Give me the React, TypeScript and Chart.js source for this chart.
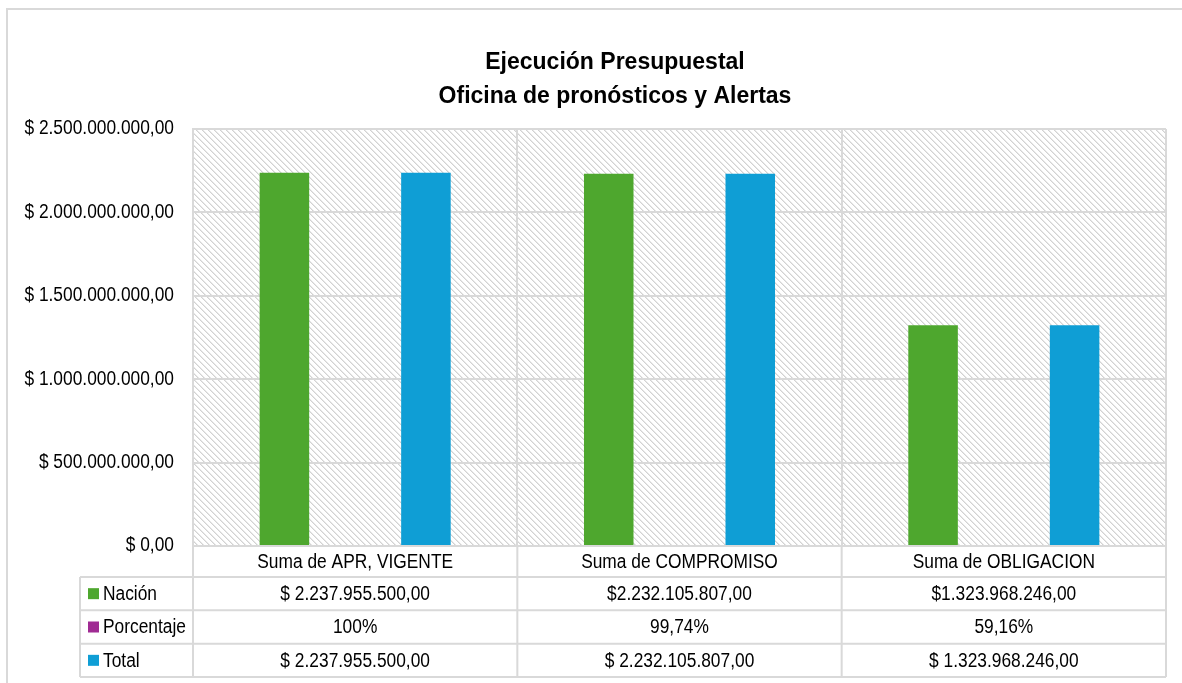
import { useEffect, useRef } from 'react';
import { Chart, registerables } from 'chart.js';

Chart.register(...registerables);

const categories = ['Suma de APR, VIGENTE', 'Suma de COMPROMISO', 'Suma de OBLIGACION'];
const seriesNames = ['Nación', 'Porcentaje', 'Total'];
const nacionValues = [2237955500, 2232105807, 1323968246];
const porcentajeValues = [1, 0.9974, 0.5916];
const totalValues = [2237955500, 2232105807, 1323968246];
const nacionLabels = ['$ 2.237.955.500,00', '$2.232.105.807,00', '$1.323.968.246,00'];
const porcentajeLabels = ['100%', '99,74%', '59,16%'];
const totalLabels = ['$ 2.237.955.500,00', '$ 2.232.105.807,00', '$ 1.323.968.246,00'];
const seriesColors = ['#4EA72E', '#A02B93', '#0F9ED5'];
const barColors = ['#4EA72E', 'rgba(160,43,147,0)', '#0F9ED5'];
const titleLines = ['Ejecución Presupuestal', 'Oficina de pronósticos y Alertas'];
const yMax = 2500000000;
const yStep = 500000000;

const FONT = "'Liberation Sans', Arial, sans-serif";
const GRID = '#d9d9d9';
const TEXT_SIZE = 19.5;
const TEXT_SX = 0.89;

function formatPesos(v: number): string {
  const s = Math.round(v).toString().replace(/\B(?=(\d{3})+(?!\d))/g, '.');
  return '$ ' + s + ',00';
}

function drawNarrow(ctx: CanvasRenderingContext2D, text: string, x: number, y: number, align: CanvasTextAlign) {
  ctx.save();
  ctx.translate(x, y);
  ctx.scale(TEXT_SX, 1);
  ctx.textAlign = align;
  ctx.textBaseline = 'middle';
  ctx.font = `${TEXT_SIZE}px ${FONT}`;
  ctx.fillText(text, 0, 0);
  ctx.restore();
}

const framePlugin = {
  id: 'frame',
  beforeDraw(chart: any) {
    const { ctx, chartArea: a } = chart;
    ctx.save();
    ctx.fillStyle = '#ffffff';
    ctx.fillRect(0, 0, chart.width, chart.height);
    ctx.strokeStyle = GRID;
    ctx.lineWidth = 2;
    ctx.beginPath();
    ctx.moveTo(7, chart.height);
    ctx.lineTo(7, 9);
    ctx.lineTo(chart.width, 9);
    ctx.stroke();
    const tile = document.createElement('canvas');
    tile.width = 6;
    tile.height = 6;
    const t = tile.getContext('2d')!;
    for (let i = 0; i < 6; i++) {
      t.fillStyle = '#d2d2d2';
      t.fillRect(i, i, 1, 1);
      t.fillStyle = '#e8e8e8';
      t.fillRect((i + 1) % 6, i, 1, 1);
    }
    const pat = ctx.createPattern(tile, 'repeat');
    if (pat) {
      ctx.fillStyle = pat;
      ctx.fillRect(a.left, a.top, a.right - a.left, a.bottom - a.top);
    }
    ctx.restore();
  },
  afterDraw(chart: any) {
    const { ctx, chartArea: a } = chart;
    const n = categories.length;
    const w = (a.right - a.left) / n;
    const labelLeft = a.left - 113;
    const catBottom = a.bottom + 31;
    const rowH = (677 - 577) / 3;
    const rows = [catBottom, catBottom + rowH, catBottom + 2 * rowH, catBottom + 3 * rowH];
    const tableBottom = rows[3];
    ctx.save();

    // title (the source chart frame is wider than the page, so its centre sits right of the page centre)
    ctx.fillStyle = '#000000';
    ctx.textAlign = 'center';
    ctx.textBaseline = 'middle';
    ctx.font = `bold 23px ${FONT}`;
    titleLines.forEach((line, i) => {
      ctx.fillText(line, 615, 63 + i * 34);
    });

    ctx.strokeStyle = GRID;
    ctx.lineWidth = 2;
    ctx.beginPath();
    for (let i = 0; i <= n; i++) {
      const xx = a.left + i * w;
      ctx.moveTo(xx, a.bottom);
      ctx.lineTo(xx, tableBottom);
    }
    ctx.moveTo(labelLeft, rows[0]);
    ctx.lineTo(labelLeft, tableBottom);
    for (const r of rows) {
      ctx.moveTo(labelLeft, r);
      ctx.lineTo(a.right, r);
    }
    ctx.stroke();

    ctx.fillStyle = '#000000';
    const ys = chart.scales.y;
    ys.ticks.forEach((tk: any) => {
      drawNarrow(ctx, formatPesos(tk.value), a.left - 19, ys.getPixelForValue(tk.value), 'right');
    });
    const xs = chart.scales.x;
    categories.forEach((c, i) => {
      drawNarrow(ctx, c, xs.getPixelForValue(i), a.bottom + 17, 'center');
    });
    const rowTexts = [nacionLabels, porcentajeLabels, totalLabels];
    rowTexts.forEach((arr, r) => {
      const cy = rows[r] + rowH / 2 + 1;
      arr.forEach((txt, i) => {
        drawNarrow(ctx, txt, xs.getPixelForValue(i), cy, 'center');
      });
    });
    seriesNames.forEach((name, r) => {
      const cy = rows[r] + rowH / 2;
      ctx.fillStyle = seriesColors[r];
      ctx.fillRect(labelLeft + 8, cy - 5.5, 11, 11);
      ctx.fillStyle = '#000000';
      drawNarrow(ctx, name, labelLeft + 23, cy + 1, 'left');
    });
    ctx.restore();
  },
};

export default function App() {
  const ref = useRef<HTMLCanvasElement | null>(null);
  useEffect(() => {
    if (!ref.current) return;
    const values = [nacionValues, porcentajeValues, totalValues];
    const chart = new Chart(ref.current, {
      type: 'bar',
      data: {
        labels: categories,
        datasets: seriesNames.map((name, i) => ({
          label: name,
          data: values[i],
          backgroundColor: barColors[i],
          borderWidth: 0,
          categoryPercentage: 0.6545,
          barPercentage: 0.7,
        })),
      },
      options: {
        responsive: false,
        animation: false,
        layout: { padding: { left: 0, right: 16, top: 129, bottom: 0 } },
        plugins: {
          legend: { display: false },
          tooltip: { enabled: false },
          title: { display: false },
        },
        scales: {
          x: {
            offset: true,
            grid: { color: GRID, lineWidth: 2, offset: true, drawTicks: false },
            border: { display: true, color: GRID, width: 2 },
            ticks: { display: false },
            afterFit(scale: any) {
              scale.height = 137;
            },
          },
          y: {
            min: 0,
            max: yMax,
            grid: { color: GRID, lineWidth: 2, drawTicks: false },
            border: { display: true, color: GRID, width: 2 },
            ticks: {
              display: false,
              stepSize: yStep,
              callback: (v: any) => formatPesos(Number(v)),
            },
            afterFit(scale: any) {
              scale.width = 193;
            },
          },
        },
      },
      plugins: [framePlugin],
    });
    return () => chart.destroy();
  }, []);
  return (
    <div style={{ position: 'absolute', left: 0, top: 0, width: 1182, height: 683, overflow: 'hidden' }}>
      <canvas ref={ref} width={1182} height={683} style={{ display: 'block' }} />
    </div>
  );
}
